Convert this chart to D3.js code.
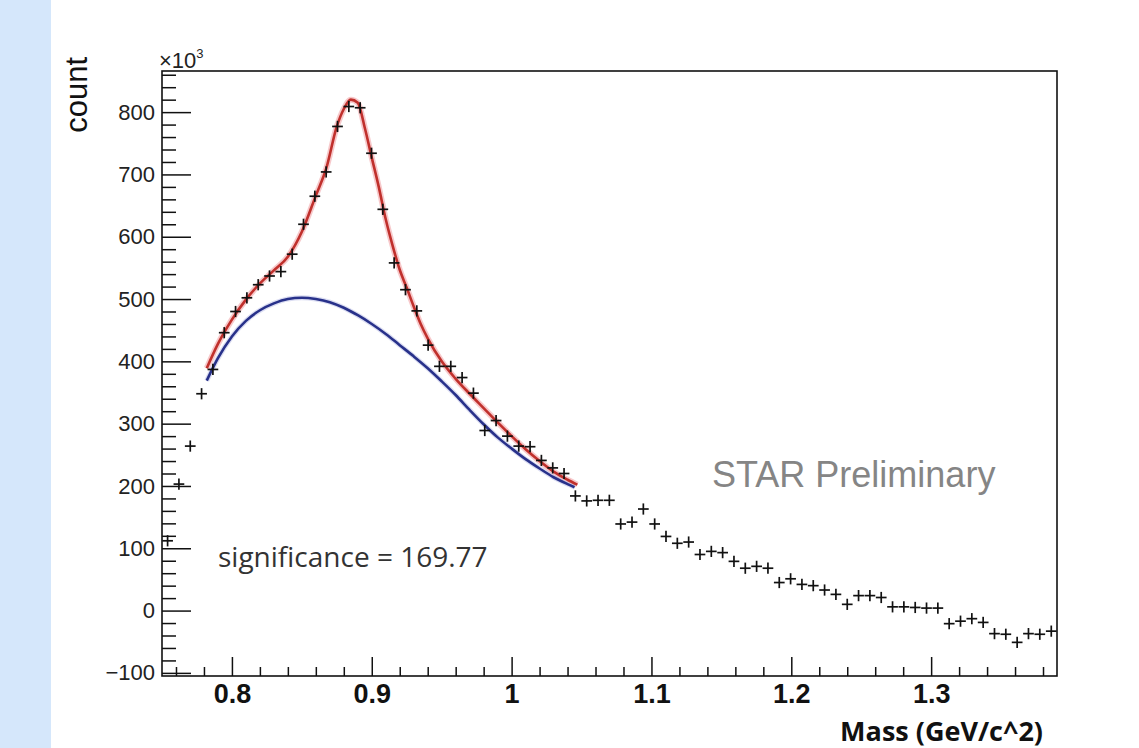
<!DOCTYPE html>
<html>
<head>
<meta charset="utf-8">
<script src="https://cdn.jsdelivr.net/npm/d3@7"></script>
<style>
  html, body { margin: 0; padding: 0; background: #ffffff; }
  svg { display: block; }
</style>
</head>
<body>
<script>
// ---------------- data ----------------
// bin centres (GeV/c^2), 79 bins between 0.75 and 1.39
const massBins = [
  0.7540, 0.7621, 0.7702, 0.7783, 0.7864, 0.7945, 0.8026, 0.8107, 0.8188, 0.8269,
  0.8350, 0.8431, 0.8512, 0.8593, 0.8674, 0.8755, 0.8836, 0.8917, 0.8998, 0.9079,
  0.9160, 0.9241, 0.9322, 0.9403, 0.9484, 0.9565, 0.9646, 0.9727, 0.9808, 0.9889,
  0.9970, 1.0051, 1.0132, 1.0213, 1.0294, 1.0375, 1.0456, 1.0537, 1.0618, 1.0699,
  1.0780, 1.0861, 1.0942, 1.1023, 1.1104, 1.1185, 1.1266, 1.1347, 1.1428, 1.1509,
  1.1590, 1.1671, 1.1752, 1.1833, 1.1914, 1.1995, 1.2076, 1.2157, 1.2238, 1.2319,
  1.2400, 1.2481, 1.2562, 1.2643, 1.2724, 1.2805, 1.2886, 1.2967, 1.3048, 1.3129,
  1.3210, 1.3291, 1.3372, 1.3453, 1.3534, 1.3615, 1.3696, 1.3777, 1.3859
];
// counts (x10^3)
const counts = [
  112, 203, 264, 348, 387, 446, 480, 502, 523, 537,
  544, 572, 620, 665, 704, 777, 809, 807, 734, 644,
  558, 515, 481, 426, 392, 392, 374, 349, 289, 305,
  280, 264, 263, 241, 229, 220, 184, 176, 177, 177,
  139, 142, 163, 139, 119, 108, 110, 90, 95, 93,
  79, 68, 71, 68, 45, 51, 42, 40, 33, 26,
  10, 24, 24, 21, 6, 6, 5, 4, 4, -21,
  -17, -13, -19, -37, -38, -51, -37, -38, -33
];
const countErr = 9;          // vertical error bar half size (x10^3)
const binWidth = 0.0081;

// total fit (signal + background)
const fitMass  = [0.782, 0.79, 0.80, 0.81, 0.82, 0.83, 0.84, 0.85, 0.86, 0.8675, 0.875, 0.88, 0.885, 0.89, 0.895, 0.90, 0.905, 0.91, 0.915, 0.92, 0.925, 0.93, 0.935, 0.94, 0.95, 0.96, 0.97, 0.98, 0.99, 1.00, 1.01, 1.02, 1.03, 1.04, 1.047];
const fitTotal = [389, 428, 467, 499, 525, 546, 568, 608, 666, 710, 777, 805, 820, 815, 775, 727, 680, 628, 585, 547, 518, 488, 460, 437, 400, 372, 348, 325, 302, 280, 259, 240, 223, 210, 202];
// background only
const bkgMass  = [0.782, 0.79, 0.80, 0.81, 0.82, 0.83, 0.84, 0.85, 0.86, 0.87, 0.88, 0.89, 0.90, 0.91, 0.92, 0.93, 0.94, 0.95, 0.96, 0.97, 0.98, 0.99, 1.00, 1.01, 1.02, 1.03, 1.04, 1.045];
const bkgFit   = [369, 405, 440, 465, 482, 493, 500, 502, 500, 495, 486, 474, 460, 444, 426, 408, 389, 368, 346, 322, 299, 278, 260, 243, 228, 214, 203, 198];

const xMajorTicks = [0.8, 0.9, 1.0, 1.1, 1.2, 1.3];
const xTickLabels = ["0.8", "0.9", "1", "1.1", "1.2", "1.3"];
const yMajorTicks = [-100, 0, 100, 200, 300, 400, 500, 600, 700, 800];
const yTickLabels = ["\u2212100", "0", "100", "200", "300", "400", "500", "600", "700", "800"];

// ---------------- layout ----------------
const W = 1139, H = 748;
const L = 162, R = 1057, T = 71, B = 676;

const svg = d3.select("body").append("svg").attr("width", W).attr("height", H);

svg.append("rect").attr("x", 0).attr("y", 0).attr("width", W).attr("height", H).attr("fill", "#ffffff");
svg.append("rect").attr("x", 0).attr("y", 0).attr("width", 51).attr("height", H).attr("fill", "#d5e7fb");

const x = d3.scaleLinear().domain([0.75, 1.39]).range([L, R]);
const y = d3.scaleLinear().domain([-105, 866]).range([B, T]);

const numFont = "'Liberation Sans', Arial, Helvetica, sans-serif";

// minor ticks
const xMinor = d3.range(0, 33).map(i => +(0.76 + i * 0.02).toFixed(2)).filter(v => v < 1.39 && xMajorTicks.every(t => Math.abs(t - v) > 1e-6));
const yMinor = d3.range(-100, 861, 20).filter(v => v % 100 !== 0);

const gx = svg.append("g").attr("transform", `translate(0,${B})`);
gx.call(d3.axisBottom(x).tickValues(xMinor).tickSize(-9).tickFormat(""));
gx.append("g").call(d3.axisBottom(x).tickValues(xMajorTicks).tickSize(-19).tickPadding(8)
  .tickFormat((d, i) => xTickLabels[i]));
gx.selectAll(".domain").remove();
gx.selectAll("line").attr("stroke", "#111").attr("stroke-width", 1.5);
gx.selectAll("text").attr("font-family", numFont).attr("font-size", 27).attr("font-weight", "bold").attr("fill", "#111");

const gy = svg.append("g").attr("transform", `translate(${L},0)`);
gy.call(d3.axisLeft(y).tickValues(yMinor).tickSize(-14).tickFormat(""));
gy.append("g").call(d3.axisLeft(y).tickValues(yMajorTicks).tickSize(-29).tickPadding(7)
  .tickFormat((d, i) => yTickLabels[i]));
gy.selectAll(".domain").remove();
gy.selectAll("line").attr("stroke", "#111").attr("stroke-width", 1.5);
gy.selectAll("text").attr("font-family", numFont).attr("font-size", 22).attr("fill", "#222");

// frame
svg.append("rect").attr("x", L).attr("y", T).attr("width", R - L).attr("height", B - T)
  .attr("fill", "none").attr("stroke", "#111").attr("stroke-width", 1.6);

// x10^3
const mult = svg.append("text").attr("x", 159).attr("y", 68).attr("font-family", numFont)
  .attr("font-size", 22).attr("fill", "#222");
mult.append("tspan").text("\u00d710");
mult.append("tspan").attr("dy", -10).attr("font-size", 13).text("3");

// fit curves
const lineFit = d3.line().x(d => x(d[0])).y(d => y(d[1])).curve(d3.curveMonotoneX);
const totalPts = fitMass.map((m, i) => [m, fitTotal[i]]);
const bkgPts = bkgMass.map((m, i) => [m, bkgFit[i]]);

svg.append("path").attr("d", lineFit(totalPts)).attr("fill", "none")
  .attr("stroke", "#f2a5a8").attr("stroke-width", 6).attr("stroke-opacity", 0.6);
svg.append("path").attr("d", lineFit(bkgPts)).attr("fill", "none")
  .attr("stroke", "#b8bce6").attr("stroke-width", 5).attr("stroke-opacity", 0.5);
svg.append("path").attr("d", lineFit(bkgPts)).attr("fill", "none")
  .attr("stroke", "#28318a").attr("stroke-width", 2.6);
svg.append("path").attr("d", lineFit(totalPts)).attr("fill", "none")
  .attr("stroke", "#c0302c").attr("stroke-width", 2.6);

// data points with error bars
const pts = svg.append("g").attr("stroke", "#111").attr("stroke-width", 1.7);
massBins.forEach((m, i) => {
  const v = counts[i];
  pts.append("line").attr("x1", x(m - binWidth / 2) + 0.3).attr("x2", x(m + binWidth / 2) - 0.3)
    .attr("y1", y(v)).attr("y2", y(v));
  pts.append("line").attr("x1", x(m)).attr("x2", x(m))
    .attr("y1", y(v - countErr)).attr("y2", y(v + countErr));
});

// labels
svg.append("text").attr("transform", "translate(87,57) rotate(-90)").attr("text-anchor", "end")
  .attr("font-family", numFont).attr("font-size", 31).attr("fill", "#111").text("count");

svg.append("text").attr("x", 1043).attr("y", 741).attr("text-anchor", "end")
  .attr("font-family", "'Open Sans', 'Noto Sans', sans-serif").attr("font-weight", "bold")
  .attr("font-size", 27).attr("fill", "#111").text("Mass (GeV/c^2)");

svg.append("text").attr("x", 218).attr("y", 567)
  .attr("font-family", "'Open Sans', 'Noto Sans', sans-serif")
  .attr("font-size", 28).attr("fill", "#333").text("significance = 169.77");

svg.append("text").attr("x", 712).attr("y", 487)
  .attr("font-family", numFont).attr("font-size", 36).attr("fill", "#858585").text("STAR Preliminary");
</script>
</body>
</html>
